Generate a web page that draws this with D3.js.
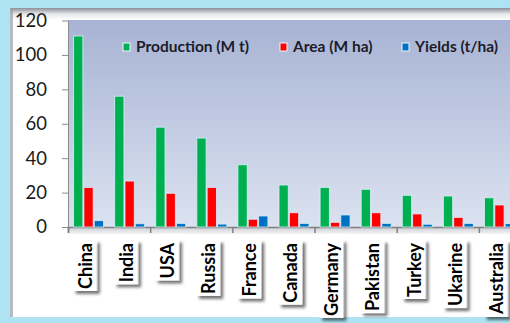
<!DOCTYPE html>
<html>
<head>
<meta charset="utf-8">
<script src="https://cdn.jsdelivr.net/npm/d3@7"></script>
<style>
  body { margin: 0; background: #ade3f3; }
  svg { display: block; font-family: Lato, "Open Sans", sans-serif; }
</style>
</head>
<body>
<svg id="chart" width="510" height="323"></svg>
<script>
const countries = ['China', 'India', 'USA', 'Russia', 'France', 'Canada', 'Germany', 'Pakistan', 'Turkey', 'Ukarine', 'Australia']
const production = [111, 76, 58, 51.7, 36.2, 24.4, 23, 21.9, 18.4, 18, 17]
const area = [23, 26.7, 19.6, 23, 4.5, 8.3, 2.7, 8.3, 7.6, 5.6, 12.8]
const yields = [3.7, 1.9, 2.1, 1.7, 6.4, 2.1, 7, 2.1, 1.6, 2.1, 2]
const seriesNames = ['Production (M t)', 'Area (M ha)', 'Yields (t/ha)']
const yTicks = [0, 20, 40, 60, 80, 100, 120]

const colors = ['#00b050', '#ff0000', '#0070c0']

const plot = { left: 68, top: 20, right: 520, bottom: 227 }

const svg = d3.select('#chart')
const defs = svg.append('defs')

// backgrounds
let pg = defs.append('linearGradient').attr('id', 'plotbg').attr('x1', 0).attr('y1', 0).attr('x2', 0).attr('y2', 1)
pg.append('stop').attr('offset', 0).attr('stop-color', '#a7b3d4')
pg.append('stop').attr('offset', 1).attr('stop-color', '#dbe2f0')

let bevel = defs.append('linearGradient').attr('id', 'bevel').attr('x1', 0).attr('y1', 0).attr('x2', 0).attr('y2', 1)
bevel.append('stop').attr('offset', 0).attr('stop-color', '#8a8f96')
bevel.append('stop').attr('offset', 0.5).attr('stop-color', '#e6e8ea')
bevel.append('stop').attr('offset', 1).attr('stop-color', '#ffffff')

let strip = defs.append('linearGradient').attr('id', 'strip').attr('x1', 0).attr('y1', 0).attr('x2', 0).attr('y2', 1)
strip.append('stop').attr('offset', 0).attr('stop-color', '#c9ccd2')
strip.append('stop').attr('offset', 1).attr('stop-color', '#f4f5f7')

let shadow = defs.append('filter').attr('id', 'shadow').attr('x', '-50%').attr('y', '-20%').attr('width', '200%').attr('height', '140%')
shadow.append('feDropShadow').attr('dx', -3).attr('dy', 3).attr('stdDeviation', 1.8)
    .attr('flood-color', '#000').attr('flood-opacity', 0.55)

svg.append('rect').attr('x', 10).attr('y', 8).attr('width', 510).attr('height', 309).attr('fill', '#fff')
svg.append('rect').attr('x', 10).attr('y', 8).attr('width', 510).attr('height', 12).attr('fill', 'url(#bevel)')
svg.append('rect').attr('x', 10).attr('y', 8).attr('width', 3).attr('height', 309).attr('fill', '#9aa0a6').attr('opacity', 0.7)

svg.append('rect')
    .attr('x', plot.left).attr('y', plot.top)
    .attr('width', plot.right - plot.left).attr('height', plot.bottom - plot.top)
    .attr('fill', 'url(#plotbg)')
svg.append('rect').attr('x', plot.left).attr('y', plot.bottom).attr('width', plot.right - plot.left).attr('height', 7)
    .attr('fill', 'url(#strip)')

// scales
const y = d3.scaleLinear().domain([0, 120]).range([plot.bottom, plot.top + 0.5])
const x = d3.scaleBand().domain(countries).range([plot.left, plot.right]).paddingInner(0.27).paddingOuter(0.135)
const xs = d3.scaleBand().domain([0, 1, 2]).range([0, x.bandwidth()]).paddingInner(0.1)
const xEdge = d3.scaleLinear().domain([0, countries.length]).range([plot.left, plot.right])

// y axis
const yAxis = svg.append('g').attr('transform', `translate(${plot.left},0)`)
    .call(d3.axisLeft(y).tickValues(yTicks).tickSize(6).tickPadding(15).tickSizeOuter(0))
yAxis.select('.domain').attr('stroke', '#8c8c8c')
yAxis.selectAll('.tick line').attr('stroke', '#8c8c8c')
yAxis.selectAll('.tick text').attr('font-size', 18.5).attr('fill', '#1a1a1a')
    .attr('font-family', 'Lato, sans-serif')

// x axis ticks every two categories
const xAxis = svg.append('g').attr('transform', `translate(0,${plot.bottom})`)
    .call(d3.axisBottom(xEdge).tickValues([0, 2, 4, 6, 8, 10]).tickSize(6).tickFormat(''))
xAxis.select('.domain').attr('stroke', '#7f7f7f').attr('stroke-width', 1.5)
xAxis.selectAll('.tick line').attr('stroke', '#7f7f7f').attr('stroke-width', 1.5)

// bars
const series = [production, area, yields]
series.forEach((vals, s) => {
    svg.append('g').selectAll('rect')
      .data(vals)
      .enter().append('rect')
        .attr('x', (d, i) => x(countries[i]) + xs(s))
        .attr('y', d => y(d))
        .attr('width', xs.bandwidth())
        .attr('height', d => y(0) - y(d))
        .attr('fill', colors[s])
        .attr('stroke', '#d8f1ff')
        .attr('stroke-opacity', 0.8)
        .attr('stroke-width', 1)
})

// category labels in shadowed white boxes
const labels = svg.append('g').selectAll('g')
  .data(countries)
  .enter().append('g')
    .attr('transform', d => `translate(${x(d) + x.bandwidth() / 2 - 3},243) rotate(-90)`)

labels.append('text')
    .attr('text-anchor', 'end')
    .attr('dy', '0.35em')
    .attr('font-size', 18)
    .attr('font-weight', 'bold')
    .attr('fill', '#000')
    .text(d => d)

labels.each(function () {
    let g = d3.select(this)
    let box = g.select('text').node().getBBox()
    g.insert('rect', 'text')
        .attr('x', box.x - 2).attr('y', box.y - 1)
        .attr('width', box.width + 5).attr('height', box.height + 2)
        .attr('fill', '#fff')
        .attr('filter', 'url(#shadow)')
})

// legend
const legendX = [123, 280, 402]
const legend = svg.append('g').selectAll('g')
  .data(seriesNames)
  .enter().append('g')
    .attr('transform', (d, i) => `translate(${legendX[i]},47)`)

legend.append('rect')
    .attr('x', 0).attr('y', -4).attr('width', 7).attr('height', 8)
    .attr('fill', (d, i) => colors[i])
    .attr('stroke', '#eef6ff').attr('stroke-width', 1)
legend.append('text')
    .attr('x', 13).attr('dy', '0.35em')
    .attr('font-size', 15.5).attr('font-weight', 'bold')
    .attr('fill', '#1c1c2a')
    .text(d => d)
</script>
</body>
</html>
